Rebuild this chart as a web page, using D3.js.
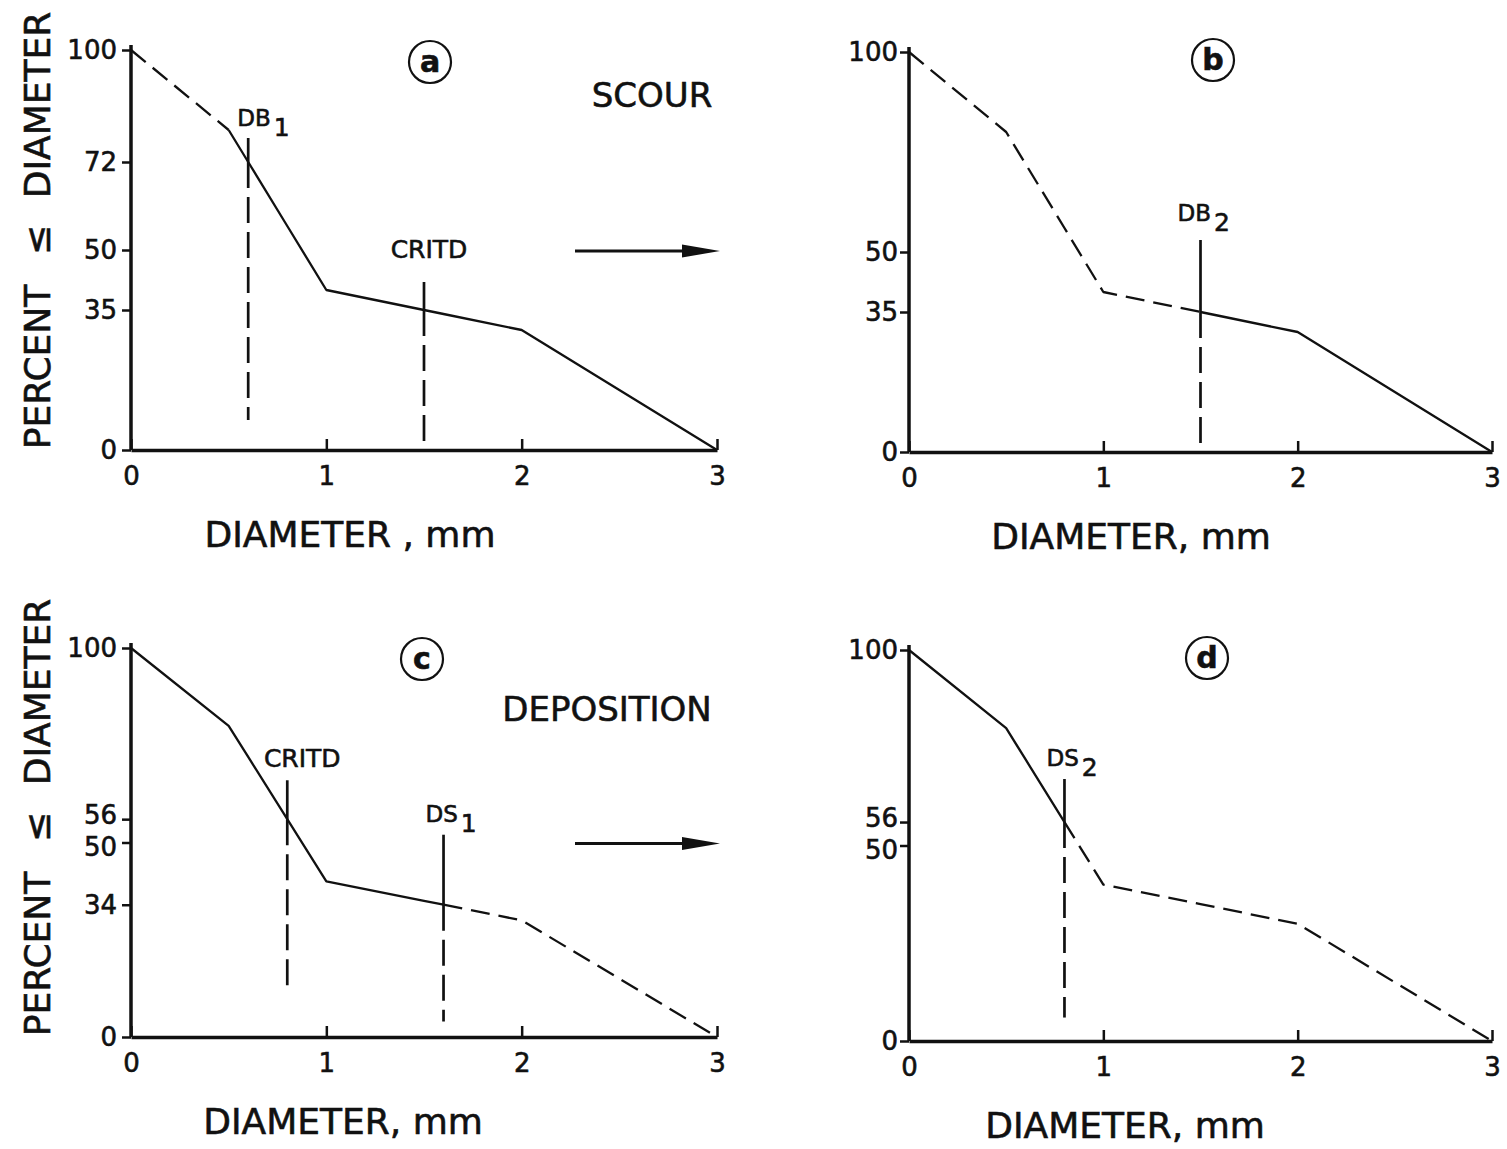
<!DOCTYPE html>
<html>
<head>
<meta charset="utf-8">
<script src="https://cdn.jsdelivr.net/npm/d3@7/dist/d3.min.js"></script>
<style>
  html, body { margin: 0; padding: 0; background: #fff; }
  svg text { font-family: "DejaVu Sans", "Liberation Sans", sans-serif; fill: #111; stroke: #111; stroke-width: 0.6px; }
</style>
</head>
<body>
<svg id="chart" width="1507" height="1149"></svg>
<script>
// Gradation curve: percent of bed material finer than a given diameter (mm)
const curveDiameter = [0, 0.5, 0.6, 0.8, 1, 1.5, 1.6, 2, 3];
const curvePercent  = [100, 80, 72, 56, 40, 35, 34, 30, 0];

const xTickValues = [0, 1, 2, 3];

// Y tick values shown on each panel
const yTicksA = [0, 35, 50, 72, 100];
const yTicksB = [0, 35, 50, 100];
const yTicksC = [0, 34, 50, 56, 100];
const yTicksD = [0, 50, 56, 100];

// Diameter ranges of the curve drawn dashed on each panel
const dashedA = [[0, 0.5]];
const dashedB = [[0, 1.5]];
const dashedC = [[1.6, 3]];
const dashedD = [[0.8, 3]];

// Reference diameters: name, subscript, diameter, extent of the vertical line (percent)
const markersA = [
  { name: "DB", sub: "1", d: 0.6, top: 78, bottom: 7.5 },
  { name: "CRITD", sub: "", d: 1.5, top: 42, bottom: 0 }
];
const markersB = [
  { name: "DB", sub: "2", d: 1.5, top: 53, bottom: 2 }
];
const markersC = [
  { name: "CRITD", sub: "", d: 0.8, top: 66, bottom: 12 },
  { name: "DS", sub: "1", d: 1.6, top: 52, bottom: 4 }
];
const markersD = [
  { name: "DS", sub: "2", d: 0.8, top: 67, bottom: 6 }
];

const panelLetters = ["a", "b", "c", "d"];
const processLabels = ["SCOUR", null, "DEPOSITION", null];
const xTitles = ["DIAMETER , mm", "DIAMETER, mm", "DIAMETER, mm", "DIAMETER, mm"];
const yTitleWords = ["PERCENT", "\u2264", "DIAMETER"];

// Panel frames (pixel layout)
const frames = [
  { left: 131, right: 717, bottom: 450, top: 50, yTicks: yTicksA, dashed: dashedA, markers: markersA,
    yTitle: true, arrow: true, circle: [430, 62], label: [652, 97], labelOffsets: [[-11, -19], [5, -31]], xTitleX: 350, tickLabelPad: 5 },
  { left: 909, right: 1492, bottom: 452, top: 52, yTicks: yTicksB, dashed: dashedB, markers: markersB,
    yTitle: false, arrow: false, circle: [1213, 60], label: null, labelOffsets: [[-23, -26]], xTitleX: 1131, tickLabelPad: 2 },
  { left: 131, right: 717, bottom: 1037, top: 648, yTicks: yTicksC, dashed: dashedC, markers: markersC,
    yTitle: true, arrow: true, circle: [422, 659], label: [607, 711], labelOffsets: [[15, -20], [-18, -20]], xTitleX: 343, tickLabelPad: 5 },
  { left: 909, right: 1492, bottom: 1041, top: 650, yTicks: yTicksD, dashed: dashedD, markers: markersD,
    yTitle: false, arrow: false, circle: [1207, 658], label: null, labelOffsets: [[-18, -20]], xTitleX: 1125, tickLabelPad: 2 }
];

const svg = d3.select("#chart");
const ink = "#111";
const curve = curveDiameter.map((d, i) => ({ d, p: curvePercent[i] }));

function percentAt(dia) {
  for (let i = 1; i < curve.length; i++) {
    if (dia <= curve[i].d) {
      const a = curve[i - 1], b = curve[i];
      return a.p + (b.p - a.p) * (dia - a.d) / (b.d - a.d);
    }
  }
  return curve[curve.length - 1].p;
}

frames.forEach((f, idx) => {
  const g = svg.append("g");
  const x = d3.scaleLinear().domain([0, 3]).range([f.left, f.right]);
  const y = d3.scaleLinear().domain([0, 100]).range([f.bottom, f.top]);

  // Y axis
  const yAxis = d3.axisLeft(y).tickValues(f.yTicks).tickSize(9).tickSizeOuter(0)
    .tickPadding(f.tickLabelPad).tickFormat(d3.format("d"));
  const ya = g.append("g").attr("transform", `translate(${f.left},0)`).call(yAxis);
  ya.select(".domain").attr("d", `M0,${f.bottom}V${f.top - 5}`).attr("stroke", ink).attr("stroke-width", 3.5);
  ya.selectAll(".tick line").attr("stroke", ink).attr("stroke-width", 2.5);
  // closely spaced 56 / 50 labels are pushed apart
  const crowded = f.yTicks.includes(56) && f.yTicks.includes(50);
  ya.selectAll(".tick text").attr("font-size", 26).attr("font-family", "DejaVu Sans").attr("fill", ink)
    .attr("transform", d => crowded && d === 56 ? "translate(0,-4)" : crowded && d === 50 ? "translate(0,5)" : null);

  // X axis with inward ticks
  const xAxis = d3.axisBottom(x).tickValues(xTickValues).tickSize(-11).tickSizeOuter(0)
    .tickPadding(17).tickFormat(d3.format("d"));
  const xa = g.append("g").attr("transform", `translate(0,${f.bottom})`).call(xAxis);
  xa.select(".domain").attr("stroke", ink).attr("stroke-width", 3.5);
  xa.selectAll(".tick line").attr("stroke", ink).attr("stroke-width", 2.5);
  xa.selectAll(".tick text").attr("font-size", 26).attr("font-family", "DejaVu Sans").attr("fill", ink)
    .attr("dy", "0.71em");

  // Curve: split into solid / dashed portions
  const line = d3.line().x(d => x(d.d)).y(d => y(d.p));
  const breaks = [0, 3];
  f.dashed.forEach(r => { breaks.push(r[0], r[1]); });
  const cuts = Array.from(new Set(breaks)).sort((a, b) => a - b);
  for (let i = 1; i < cuts.length; i++) {
    const lo = cuts[i - 1], hi = cuts[i];
    const pts = curve.filter(c => c.d >= lo && c.d <= hi);
    const isDashed = f.dashed.some(r => lo >= r[0] && hi <= r[1]);
    g.append("path").datum(pts).attr("d", line)
      .attr("fill", "none").attr("stroke", ink).attr("stroke-width", 2.3)
      .attr("stroke-linejoin", "round")
      .attr("stroke-dasharray", isDashed ? "19,9" : null);
  }

  // Reference diameters: solid above the curve, dashed below
  f.markers.forEach((m, mi) => {
    const pc = percentAt(m.d);
    g.append("line").attr("x1", x(m.d)).attr("x2", x(m.d))
      .attr("y1", y(m.top)).attr("y2", y(pc))
      .attr("stroke", ink).attr("stroke-width", 2.7);
    g.append("line").attr("x1", x(m.d)).attr("x2", x(m.d))
      .attr("y1", y(pc)).attr("y2", y(m.bottom))
      .attr("stroke", ink).attr("stroke-width", 2.7).attr("stroke-dasharray", "26,9");
    const off = f.labelOffsets[mi];
    const t = g.append("text")
      .attr("x", x(m.d) + off[0]).attr("y", y(m.top) + off[1])
      .attr("font-size", m.sub ? 23 : 25).attr("dominant-baseline", "middle")
      .attr("text-anchor", m.sub ? "start" : "middle");
    t.append("tspan").text(m.name);
    if (m.sub) {
      t.append("tspan").attr("dx", 3).attr("dy", 10).attr("font-size", 25).text(m.sub);
    }
  });

  // Circled panel letter
  g.append("circle").attr("cx", f.circle[0]).attr("cy", f.circle[1]).attr("r", 21)
    .attr("fill", "none").attr("stroke", ink).attr("stroke-width", 2.2);
  g.append("text").attr("x", f.circle[0]).attr("y", f.circle[1] + 1)
    .attr("text-anchor", "middle").attr("dominant-baseline", "middle")
    .attr("font-size", 30).attr("font-weight", "bold").text(panelLetters[idx]);

  // Process label and arrow
  if (processLabels[idx]) {
    g.append("text").attr("x", f.label[0]).attr("y", f.label[1])
      .attr("text-anchor", "middle").attr("dominant-baseline", "middle")
      .attr("font-size", 34).text(processLabels[idx]);
  }
  if (f.arrow) {
    const ay = y(50) + 1;
    g.append("line").attr("x1", 575).attr("x2", 690).attr("y1", ay).attr("y2", ay)
      .attr("stroke", ink).attr("stroke-width", 3);
    g.append("path").attr("d", `M682,${ay - 6.5}L720,${ay}L682,${ay + 6.5}Z`).attr("fill", ink);
  }

  // Axis titles
  g.append("text").attr("x", f.xTitleX).attr("y", f.bottom + 87)
    .attr("text-anchor", "middle").attr("dominant-baseline", "middle")
    .attr("font-size", 36).text(xTitles[idx]);

  if (f.yTitle) {
    const offsets = [-83, -210, -345];
    yTitleWords.forEach((w, wi) => {
      const cy = f.bottom + offsets[wi];
      g.append("text").attr("transform", `translate(40,${cy}) rotate(-90)`)
        .attr("text-anchor", "middle").attr("dominant-baseline", "middle")
        .attr("font-size", 36).text(w);
    });
  }
});
</script>
</body>
</html>
